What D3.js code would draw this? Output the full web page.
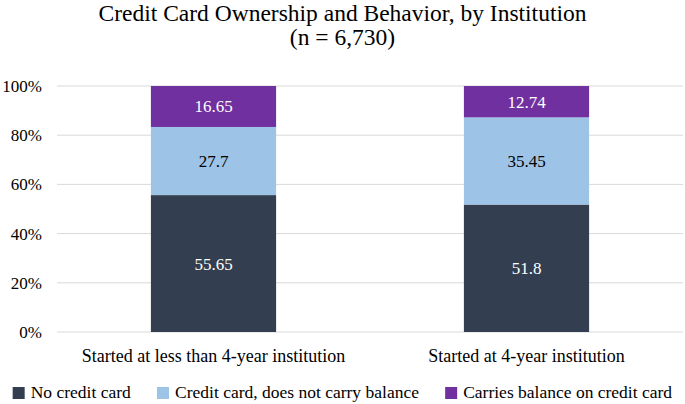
<!DOCTYPE html>
<html>
<head>
<meta charset="utf-8">
<script src="https://cdn.jsdelivr.net/npm/d3@7"></script>
<style>
  body { margin: 0; background: #fff; }
  svg { display: block; font-family: 'Liberation Serif', 'Times New Roman', serif; }
</style>
</head>
<body>
<svg id="chart" width="685" height="404"></svg>
<script>
// data
const categories = ['Started at less than 4-year institution', 'Started at 4-year institution']
const seriesNames = ['No credit card', 'Credit card, does not carry balance', 'Carries balance on credit card']
const noCard = [55.65, 51.8]
const noBalance = [27.7, 35.45]
const carriesBalance = [16.65, 12.74]
const yTicks = [0, 20, 40, 60, 80, 100]

const colors = ['#333f50', '#9dc3e6', '#7030a0']
const labelColors = ['#fff', '#000', '#fff']

const width = 685
const height = 404
const margin = { top: 86, right: 2, bottom: 72, left: 57 }

const svg = d3.select('#chart')

// title
svg.append('text')
  .attr('x', width / 2).attr('y', 21)
  .attr('text-anchor', 'middle')
  .attr('font-size', 23.5)
  .text('Credit Card Ownership and Behavior, by Institution')
svg.append('text')
  .attr('x', width / 2).attr('y', 45)
  .attr('text-anchor', 'middle')
  .attr('font-size', 23.5)
  .text('(n = 6,730)')

const x = d3.scaleBand()
  .domain(categories)
  .range([margin.left, width - margin.right])
  .paddingInner(0.6)
  .paddingOuter(0.3)

const y = d3.scaleLinear()
  .domain([0, 100])
  .range([height - margin.bottom, margin.top])

// gridlines
svg.append('g')
  .selectAll('line')
  .data(yTicks)
  .join('line')
  .attr('x1', margin.left)
  .attr('x2', width - margin.right)
  .attr('y1', d => y(d))
  .attr('y2', d => y(d))
  .attr('stroke', '#d9d9d9')
  .attr('stroke-width', 1)

// y axis labels
svg.append('g')
  .selectAll('text')
  .data(yTicks)
  .join('text')
  .attr('x', 42)
  .attr('y', d => y(d))
  .attr('dy', '0.35em')
  .attr('text-anchor', 'end')
  .attr('font-size', 17)
  .attr('fill', '#000')
  .text(d => d + '%')

// stack
const rows = categories.map((c, i) => ({
  category: c,
  [seriesNames[0]]: noCard[i],
  [seriesNames[1]]: noBalance[i],
  [seriesNames[2]]: carriesBalance[i]
}))
const stacked = d3.stack().keys(seriesNames)(rows)

const layers = svg.append('g')
  .selectAll('g')
  .data(stacked)
  .join('g')
  .attr('fill', (d, i) => colors[i])

layers.selectAll('rect')
  .data(d => d)
  .join('rect')
  .attr('x', d => x(d.data.category))
  .attr('width', x.bandwidth())
  .attr('y', d => y(d[1]))
  .attr('height', d => y(d[0]) - y(d[1]))

// value labels
stacked.forEach((layer, li) => {
  svg.append('g')
    .selectAll('text')
    .data(layer)
    .join('text')
    .attr('x', d => x(d.data.category) + x.bandwidth() / 2)
    .attr('y', d => (y(d[0]) + y(d[1])) / 2)
    .attr('dy', '0.35em')
    .attr('text-anchor', 'middle')
    .attr('font-size', 17)
    .attr('fill', labelColors[li])
    .text(d => d.data[layer.key])
})

// category labels
svg.append('g')
  .selectAll('text')
  .data(categories)
  .join('text')
  .attr('x', d => x(d) + x.bandwidth() / 2)
  .attr('y', 362)
  .attr('text-anchor', 'middle')
  .attr('font-size', 18)
  .text(d => d)

// legend
const legend = svg.append('g').attr('transform', 'translate(0,398)')
const items = legend.selectAll('g')
  .data(seriesNames)
  .join('g')
items.append('rect')
  .attr('width', 12).attr('height', 12)
  .attr('y', -11)
  .attr('fill', (d, i) => colors[i])
items.append('text')
  .attr('x', 18)
  .attr('font-size', 17.5)
  .text(d => d)
const gap = 26
const widths = []
items.each(function () { widths.push(this.getBBox().width) })
const total = d3.sum(widths) + gap * (widths.length - 1)
let pos = (width - total) / 2
items.attr('transform', (d, i) => {
  const t = `translate(${pos},0)`
  pos += widths[i] + gap
  return t
})
</script>
</body>
</html>
